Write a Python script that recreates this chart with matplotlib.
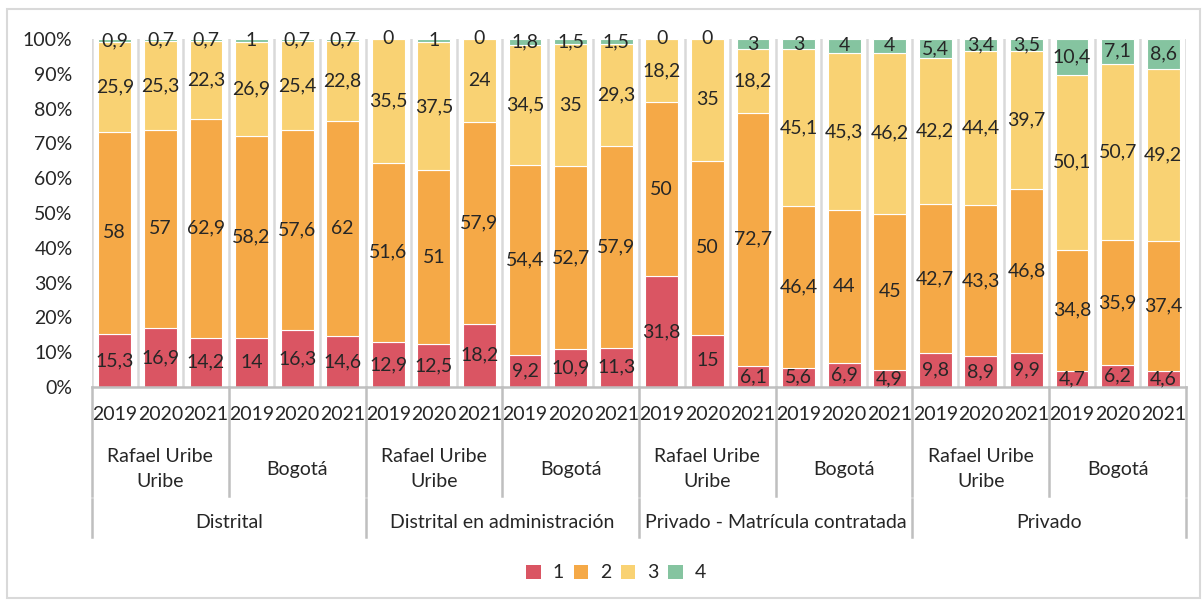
import numpy as np
import matplotlib.pyplot as plt
from matplotlib import transforms
from matplotlib.patches import Rectangle, Patch
from matplotlib.lines import Line2D

plt.rcParams['font.family'] = ['Lato', 'DejaVu Sans']

# valores por nivel (1-4), 24 barras: sector > ciudad > año
years = ['2019', '2020', '2021'] * 8
cities = ['Rafael Uribe\nUribe', 'Bogotá'] * 4
sectors = ['Distrital', 'Distrital en administración',
           'Privado - Matrícula contratada', 'Privado']
series_names = ['1', '2', '3', '4']

s1 = [15.3, 16.9, 14.2, 14, 16.3, 14.6,
      12.9, 12.5, 18.2, 9.2, 10.9, 11.3,
      31.8, 15, 6.1, 5.6, 6.9, 4.9,
      9.8, 8.9, 9.9, 4.7, 6.2, 4.6]
s2 = [58, 57, 62.9, 58.2, 57.6, 62,
      51.6, 51, 57.9, 54.4, 52.7, 57.9,
      50, 50, 72.7, 46.4, 44, 45,
      42.7, 43.3, 46.8, 34.8, 35.9, 37.4]
s3 = [25.9, 25.3, 22.3, 26.9, 25.4, 22.8,
      35.5, 37.5, 24, 34.5, 35, 29.3,
      18.2, 35, 18.2, 45.1, 45.3, 46.2,
      42.2, 44.4, 39.7, 50.1, 50.7, 49.2]
s4 = [0.9, 0.7, 0.7, 1, 0.7, 0.7,
      0, 1, 0, 1.8, 1.5, 1.5,
      0, 0, 3, 3, 4, 4,
      5.4, 3.4, 3.5, 10.4, 7.1, 8.6]

colors = ['#DA5563', '#F5A947', '#F9D273', '#85C4A0']
text_color = '#262626'
fs = 14
W, H = 1202, 602

data = np.array([s1, s2, s3, s4], dtype=float)
shares = data / data.sum(axis=0) * 100
n = data.shape[1]
x = np.arange(n)

fig = plt.figure(figsize=(W / 100, H / 100), dpi=100)
ax = fig.add_axes([92 / W, 1 - 387 / H, (1186 - 92) / W, (387 - 39) / H])

# líneas verticales entre categorías
for b in np.arange(-0.5, n + 0.5, 1):
    ax.axvline(b, color='#D9D9D9', lw=1.8, zorder=0)

bottom = np.zeros(n)
for i in range(4):
    ax.bar(x, shares[i], 0.72, bottom=bottom, color=colors[i],
           edgecolor='white', linewidth=0.8, zorder=2)
    for j in range(n):
        lbl = ('%g' % data[i, j]).replace('.', ',')
        ax.text(x[j], bottom[j] + shares[i, j] / 2, lbl, ha='center', va='center',
                fontsize=fs, color=text_color, zorder=3)
    bottom += shares[i]

ax.set_xlim(-0.5, n - 0.5)
ax.set_ylim(0, 100)
ax.set_yticks(np.arange(0, 101, 10))
ax.set_yticklabels(['%d%%' % v for v in range(0, 101, 10)], fontsize=fs, color=text_color)
ax.tick_params(axis='y', length=0, pad=14)
ax.set_xticks([])
for sp in ['top', 'right', 'left']:
    ax.spines[sp].set_visible(False)
ax.spines['bottom'].set_color('#BFBFBF')
ax.spines['bottom'].set_linewidth(1.8)

# ejes de categorías multinivel
tr = transforms.blended_transform_factory(ax.transData, fig.transFigure)
fy = lambda py: 1 - py / H
for j in range(n):
    ax.text(x[j], fy(414), years[j], transform=tr, ha='center', va='center',
            fontsize=fs, color=text_color)
for k, c in enumerate(cities):
    ax.text(3 * k + 1, fy(469), c, transform=tr, ha='center', va='center',
            fontsize=fs, color=text_color, linespacing=1.55)
for k, s in enumerate(sectors):
    ax.text(6 * k + 2.5, fy(523), s, transform=tr, ha='center', va='center',
            fontsize=fs, color=text_color)
for b in np.arange(-0.5, n + 0.5, 3):
    fig.add_artist(Line2D([b, b], [fy(387), fy(496)], transform=tr,
                          color='#BFBFBF', lw=1.8))
for b in np.arange(-0.5, n + 0.5, 6):
    fig.add_artist(Line2D([b, b], [fy(499), fy(537)], transform=tr,
                          color='#BFBFBF', lw=1.8))

handles = [Patch(facecolor=c, edgecolor='none') for c in colors]
fig.legend(handles, series_names, loc='center', bbox_to_anchor=(616 / W, fy(573)),
           ncol=4, frameon=False, fontsize=fs, handlelength=0.75, handleheight=0.75,
           columnspacing=0.5, handletextpad=0.6, labelcolor=text_color)

fig.add_artist(Rectangle((7 / W, 1 - 598 / H), (1200 - 7) / W, (598 - 9) / H,
                         transform=fig.transFigure, fill=False,
                         edgecolor='#D9D9D9', lw=1.5))

fig.savefig('out.png', dpi=100)
